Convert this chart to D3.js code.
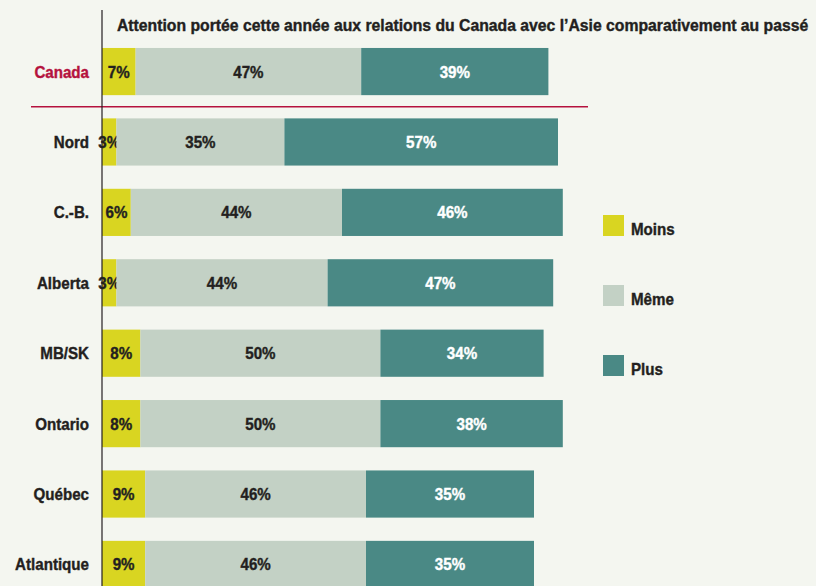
<!DOCTYPE html>
<html>
<head>
<meta charset="utf-8">
<script src="https://cdn.jsdelivr.net/npm/d3@7"></script>
<style>
  body { margin: 0; background: #f4f6f0; }
  svg { display: block; font-family: "Liberation Sans", Arial, sans-serif; font-weight: bold; }
  text { paint-order: stroke; stroke-width: 0.4px; }
</style>
</head>
<body>
<script>
var regions = ["Canada", "Nord", "C.-B.", "Alberta", "MB/SK", "Ontario", "Québec", "Atlantique"];
var series = ["Moins", "Même", "Plus"];
var moins = [7, 3, 6, 3, 8, 8, 9, 9];
var meme = [47, 35, 44, 44, 50, 50, 46, 46];
var plus = [39, 57, 46, 47, 34, 38, 35, 35];
var colors = ["#d9d521", "#c3d1c5", "#4a8985"];
var title = "Attention portée cette année aux relations du Canada avec l\u2019Asie comparativement au passé";

var width = 816, height = 586;
var squeeze = 0.89; // condensed look

var rows = regions.map(function(r, i) {
    return { region: r, Moins: moins[i], "Même": meme[i], Plus: plus[i] };
});
var stacked = d3.stack().keys(series)(rows);

var x = d3.scaleLinear().domain([0, 100]).range([102, 582]);
var y = d3.scaleBand().domain(regions).range([36, 600]).paddingInner(0.33).paddingOuter(0.17);

function place(px, py) {
    return "translate(" + px + "," + py + ") scale(" + squeeze + ",1)";
}

var svg = d3.select("body").append("svg")
    .attr("width", width)
    .attr("height", height);

svg.append("rect").attr("width", width).attr("height", height).attr("fill", "#f4f6f0");

// title, squeezed to fit the space right of the axis
var titleText = svg.append("text")
    .attr("font-size", 17)
    .attr("fill", "#231f20")
    .attr("stroke", "#231f20")
    .text(title);
var tw = titleText.node().getComputedTextLength();
titleText.attr("transform", "translate(117,31) scale(" + (692 / tw) + ",1)");

// bars
var layers = svg.selectAll("g.layer")
    .data(stacked)
    .enter().append("g")
    .attr("class", "layer")
    .attr("fill", function(d, i) { return colors[i]; });

layers.selectAll("rect")
    .data(function(d) { return d; })
    .enter().append("rect")
    .attr("x", function(d) { return x(d[0]); })
    .attr("y", function(d) { return y(d.data.region); })
    .attr("width", function(d) { return x(d[1]) - x(d[0]); })
    .attr("height", y.bandwidth());

layers.selectAll("text")
    .data(function(d) { return d; })
    .enter().append("text")
    .attr("transform", function(d) {
        return place((x(d[0]) + x(d[1])) / 2, y(d.data.region) + y.bandwidth() / 2);
    })
    .attr("dy", "0.35em")
    .attr("text-anchor", "middle")
    .attr("font-size", 17)
    .each(function() {
        var c = this.parentNode.__data__.key === "Plus" ? "#ffffff" : "#231f20";
        d3.select(this).attr("fill", c).attr("stroke", c);
    })
    .text(function(d) { return (d[1] - d[0]) + "%"; });

// region labels
svg.selectAll("text.region")
    .data(regions)
    .enter().append("text")
    .attr("class", "region")
    .attr("transform", function(d) { return place(89, y(d) + y.bandwidth() / 2); })
    .attr("dy", "0.35em")
    .attr("text-anchor", "end")
    .attr("font-size", 17)
    .attr("fill", function(d) { return d === "Canada" ? "#b5123e" : "#231f20"; })
    .attr("stroke", function(d) { return d === "Canada" ? "#b5123e" : "#231f20"; })
    .text(function(d) { return d; });

// separator under Canada
var sepY = (y("Canada") + y.bandwidth() + y("Nord")) / 2;
svg.append("line")
    .attr("x1", 31).attr("x2", 588)
    .attr("y1", sepY).attr("y2", sepY)
    .attr("stroke", "#b5123e")
    .attr("stroke-width", 1.3);

// axis line
svg.append("line")
    .attr("x1", x(0)).attr("x2", x(0))
    .attr("y1", 10).attr("y2", height)
    .attr("stroke", "#231f20")
    .attr("stroke-width", 1.2);

// legend
var legend = svg.selectAll("g.legend")
    .data(series)
    .enter().append("g")
    .attr("class", "legend")
    .attr("transform", function(d, i) { return "translate(603," + (215 + i * 70) + ")"; });

legend.append("rect")
    .attr("width", 21)
    .attr("height", 21)
    .attr("fill", function(d, i) { return colors[i]; });

legend.append("text")
    .attr("transform", place(28, 20))
    .attr("font-size", 17)
    .attr("fill", "#231f20")
    .attr("stroke", "#231f20")
    .text(function(d) { return d; });
</script>
</body>
</html>
